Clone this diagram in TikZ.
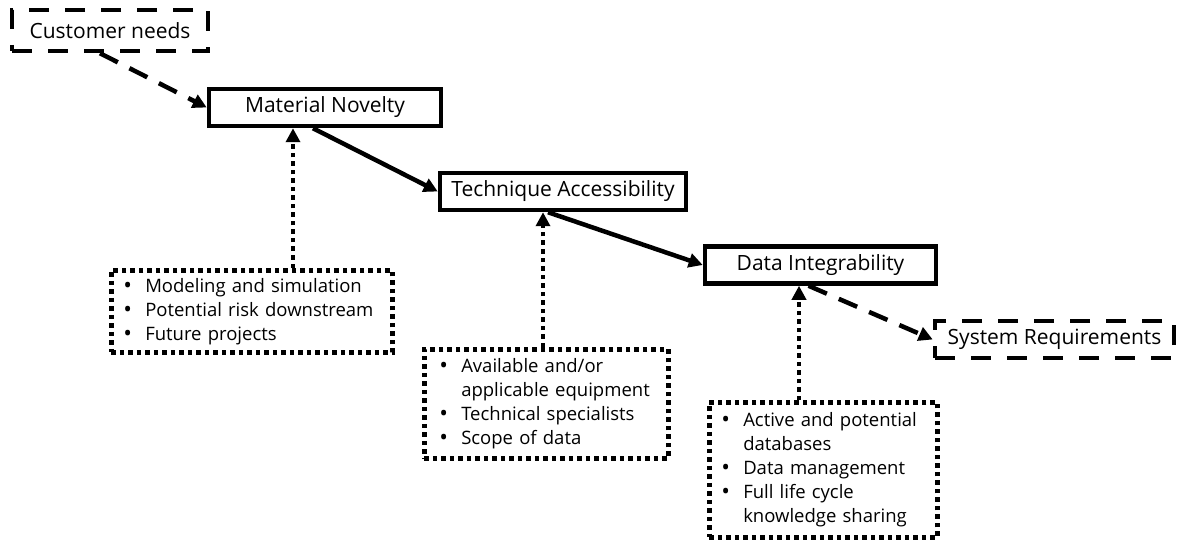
\documentclass[tikz,border=0pt]{standalone}
\usepackage{fontspec}
\setmainfont{Open Sans}
\usetikzlibrary{arrows.meta,calc}
\tikzset{
  titlebox/.style={draw,line width=4.5pt,inner sep=0pt,font=\fontsize{21}{25}\selectfont},
  dashbox/.style={draw,line width=4.5pt,inner sep=0pt,dash pattern=on 20pt off 16pt,font=\fontsize{21}{25}\selectfont},
  dotbox/.style={draw,line width=4.5pt,inner sep=0pt,dash pattern=on 4.5pt off 4pt,anchor=north west,align=left,font=\fontsize{18.5}{24}\selectfont},
  solidarrow/.style={line width=4.5pt,-{Triangle[length=14pt,width=14pt]}},
  dasharrow/.style={line width=4.5pt,dash pattern=on 20pt off 13pt,-{Triangle[length=14pt,width=14pt]}},
  dotarrow/.style={line width=4.5pt,dash pattern=on 4.5pt off 4pt,-{Triangle[length=14pt,width=14pt]}}
}
\newcommand{\bl}{\makebox[22pt][l]{\raisebox{-1.2pt}{\scalebox{1.25}{\textbullet}}}}
\begin{document}
\begin{tikzpicture}[x=1pt,y=-1pt]
\useasboundingbox (0,0) rectangle (1178,540);
% title boxes
\node[dashbox,minimum width=196pt,minimum height=41pt] (CN) at (110,30.5) {Customer needs};
\node[titlebox,minimum width=232pt,minimum height=37pt] (MN) at (325,107.5) {Material Novelty};
\node[titlebox,minimum width=246pt,minimum height=37pt] (TA) at (563,191.5) {Technique Accessibility};
\node[titlebox,minimum width=231pt,minimum height=37pt] (DI) at (820.5,265) {Data Integrability};
\node[dashbox,minimum width=239pt,minimum height=37pt] (SR) at (1054.5,339.5) {System Requirements};
% dotted boxes
\node[dotbox,minimum width=281pt,minimum height=82pt,text width=281pt] (B1) at (109,268)
  {\hspace{12pt}\begin{tabular}{@{}l@{}l@{}}\bl&Modeling and simulation\\\bl&Potential risk downstream\\\bl&Future projects\end{tabular}};
\node[dotbox,minimum width=244pt,minimum height=109pt,text width=244pt] (B2) at (422,347)
  {\hspace{15pt}\begin{tabular}{@{}l@{}l@{}}\bl&Available and/or\\&applicable equipment\\\bl&Technical specialists\\\bl&Scope of data\end{tabular}};
\node[dotbox,minimum width=228pt,minimum height=135pt,text width=228pt] (B3) at (707,400)
  {\hspace{12pt}\begin{tabular}{@{}l@{}l@{}}\bl&Active and potential\\&databases\\\bl&Data management\\\bl&Full life cycle\\&knowledge sharing\end{tabular}};
% connectors
\draw[dasharrow] ([xshift=-10pt]CN.south) -- (MN.west);
\draw[solidarrow] ([xshift=-12pt]MN.south) -- (TA.west);
\draw[solidarrow] ([xshift=-15pt]TA.south) -- (DI.west);
\draw[dasharrow] ([xshift=-12pt]DI.south) -- (SR.west);
\draw[dotarrow] (B1.north -| 293,0) -- (MN.south -| 293,0);
\draw[dotarrow] (B2.north -| 543,0) -- (TA.south -| 543,0);
\draw[dotarrow] (B3.north -| 799,0) -- (DI.south -| 799,0);
\end{tikzpicture}
\end{document}
